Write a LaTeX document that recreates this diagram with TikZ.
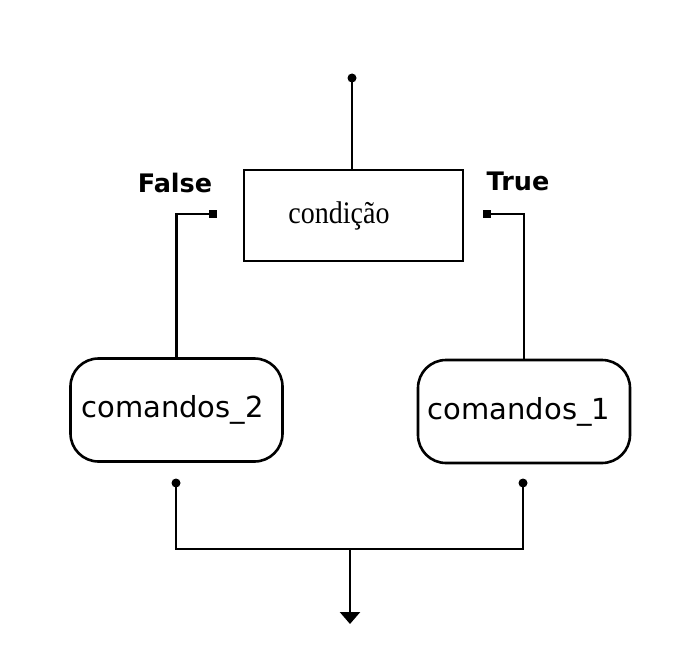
\documentclass[tikz,border=0pt]{standalone}
\usepackage{fontspec}
\setmainfont{Liberation Serif}
\newfontfamily\dvsans{DejaVu Sans}
\usetikzlibrary{arrows.meta}
\tikzset{
  conn/.style={line width=2.6pt, black},
  dotc/.style={circle, fill=black, minimum size=9pt, inner sep=0pt},
  dots/.style={rectangle, fill=black, minimum size=8pt, inner sep=0pt},
  condbox/.style={draw, line width=2.6pt, rectangle, minimum width=219pt, minimum height=91pt, inner sep=0pt, font=\fontsize{28}{30}\selectfont},
  cmdbox/.style={draw, line width=2.6pt, rectangle, rounded corners=28pt, minimum width=212pt, minimum height=103pt, inner sep=0pt, font=\dvsans\fontsize{29}{32}\selectfont},
  lbl/.style={font=\dvsans\bfseries\fontsize{25.5}{28}\selectfont, inner sep=0pt}
}
\begin{document}
\begin{tikzpicture}[x=1pt,y=-1pt]
\useasboundingbox (0,0) rectangle (686,661);
\node[condbox] (cond) at (353.5,215.5) {\scalebox{1}[1.12]{condição}\hspace*{29pt}};
\node[cmdbox] (c2) at (176.5,410) {comandos\_2\hspace*{8pt}};
\node[cmdbox] (c1) at (524,411.5) {comandos\_1\hspace*{10pt}};
\node[lbl] (lf) at (175,183) {False};
\node[lbl] (lt) at (518,181) {True};
\node[dotc] (top) at (352,78) {};
\node[dots] (fdot) at (213,214) {};
\node[dots] (tdot) at (487,214) {};
\node[dotc] (d2) at (176,483) {};
\node[dotc] (d1) at (523,483) {};
\coordinate (join) at (350,549);
\coordinate (out) at (350,624);
\draw[conn] (top.center) -- (top.center |- cond.north);
\draw[conn] (fdot.center) -| (c2.north);
\draw[conn] (tdot.center) -| (c1.north);
\draw[conn] (d2.center) |- (join) -| (d1.center);
\draw[conn, -{Triangle[width=20pt,length=12pt]}] (join) -- (out);
\end{tikzpicture}
\end{document}
